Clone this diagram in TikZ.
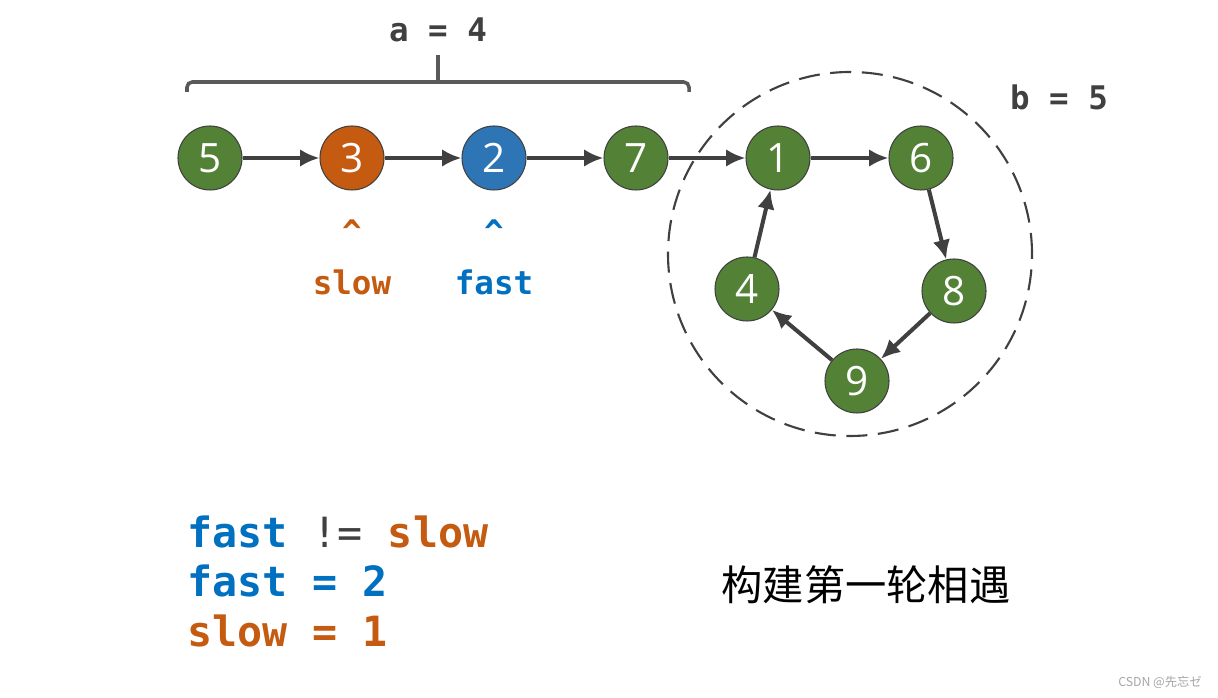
\documentclass[tikz,border=0pt]{standalone}
\usepackage{fontspec}
\usetikzlibrary{arrows.meta}
\setmainfont{Open Sans}
\setmonofont{DejaVu Sans Mono}
\newfontfamily\cjk{Noto Sans CJK SC}
\definecolor{nodegreen}{HTML}{538135}
\definecolor{nodeorange}{HTML}{C55A11}
\definecolor{nodeblue}{HTML}{2E75B6}
\definecolor{txtblue}{HTML}{0070C0}
\definecolor{darkgray}{HTML}{404040}
\definecolor{bracegray}{HTML}{595959}
\tikzset{
  listnode/.style={draw=darkgray, line width=0.6pt, circle, minimum size=1.28cm, inner sep=0pt, text=white, font=\fontsize{23}{23}\selectfont},
  link/.style={draw=darkgray, line width=2.3pt, ->, >={Latex[length=11pt,width=10pt]}},
  code/.style={font=\ttfamily\bfseries\fontsize{18.5}{18.5}\selectfont},
  bigcode/.style={font=\ttfamily\bfseries\fontsize{23.7}{23.7}\selectfont, anchor=base west, inner sep=0pt}
}
\begin{document}
\begin{tikzpicture}
\useasboundingbox[fill=white] (0,0) rectangle (24.36,13.94);
\node[listnode, fill=nodegreen] (5) at (4.2,10.78) {5};
\node[listnode, fill=nodeorange] (3) at (7.04,10.78) {3};
\node[listnode, fill=nodeblue] (2) at (9.88,10.78) {2};
\node[listnode, fill=nodegreen] (7) at (12.72,10.78) {7};
\node[listnode, fill=nodegreen] (1) at (15.56,10.78) {1};
\node[listnode, fill=nodegreen] (6) at (18.42,10.78) {6};
\node[listnode, fill=nodegreen] (8) at (19.08,8.12) {8};
\node[listnode, fill=nodegreen] (9) at (17.14,6.32) {9};
\node[listnode, fill=nodegreen] (4) at (14.94,8.16) {4};

% ring
\draw[darkgray, line width=1.2pt, dash pattern=on 12pt off 6pt] (17.0,8.86) circle (3.64);

\path[link] (5) -- (3);
\path[link] (3) -- (2);
\path[link] (2) -- (7);
\path[link] (7) -- (1);
\path[link] (1) -- (6);
\path[link] (6) -- (8);
\path[link] (8) -- (9);
\path[link] (9) -- (4);
\path[link] (4) -- (1);

% brace over the tail
\draw[bracegray, line width=2pt, rounded corners=3pt] (3.74,12.10) -- (3.74,12.30) -- (13.78,12.30) -- (13.78,12.10);
\draw[bracegray, line width=2pt] (8.76,12.30) -- (8.76,12.84);
\node[code, text=darkgray] (a) at (8.76,13.34) {a = 4};
\node[code, text=darkgray] (b) at (21.18,12.0) {b = 5};

% pointers
\node[code, text=nodeorange] (slowmark) at (7.04,9.30) {\textasciicircum};
\node[code, text=nodeorange] (slow) at (7.04,8.30) {slow};
\node[code, text=txtblue] (fastmark) at (9.88,9.30) {\textasciicircum};
\node[code, text=txtblue] (fast) at (9.88,8.30) {fast};

% state
\node[bigcode] (l1) at (3.74,2.98) {\textcolor{txtblue}{fast} \textcolor{darkgray}{\mdseries !=} \textcolor{nodeorange}{slow}};
\node[bigcode, text=txtblue] (l2) at (3.74,2.0) {fast = 2};
\node[bigcode, text=nodeorange] (l3) at (3.74,1.0) {slow = 1};

\node[font=\cjk\fontsize{23.5}{23.5}\selectfont] (title) at (17.32,2.24) {构建第一轮相遇};
\node[font=\cjk\fontsize{7}{7}\selectfont, text=gray!70] (mark) at (23.2,0.30) {CSDN @先忘ゼ};
\end{tikzpicture}
\end{document}
